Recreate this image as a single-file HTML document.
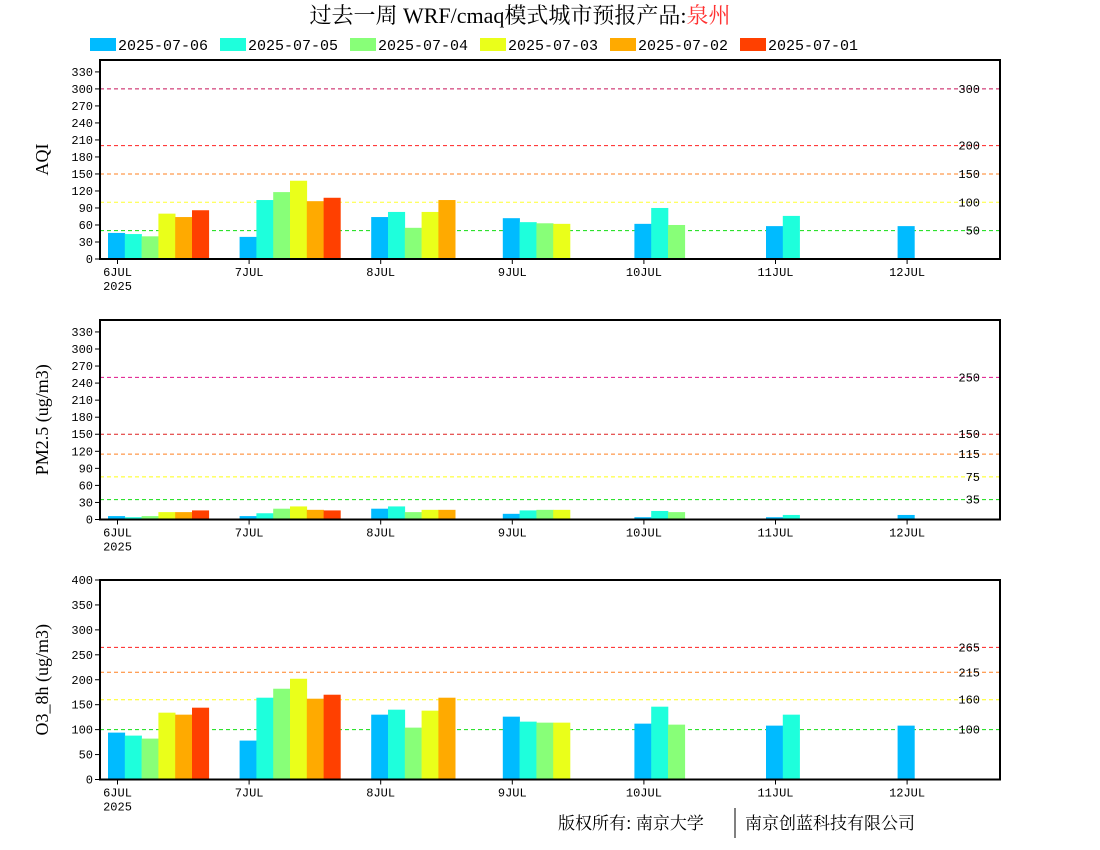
<!DOCTYPE html>
<html><head><meta charset="utf-8">
<style>
body{margin:0;background:#fff;}
svg{display:block;font-family:"Liberation Mono","WenQuanYi Zen Hei",monospace;}
</style></head>
<body>
<svg id="chart" width="1100" height="850" viewBox="0 0 1100 850" xmlns="http://www.w3.org/2000/svg">
<text x="520" y="23" text-anchor="middle" font-size="22" font-family="Liberation Serif,Noto Serif CJK SC,serif">过去一周 WRF/cmaq模式城市预报产品:<tspan fill="#ff3030">泉州</tspan></text>
<g id="legend"></g>
<g id="panels"></g>
<text x="558" y="829" font-size="17" font-family="Noto Serif CJK SC,serif">版权所有: 南京大学</text>
<line x1="735" y1="808" x2="735" y2="838" stroke="#000" stroke-width="1"/>
<text x="745" y="829" font-size="17" font-family="Noto Serif CJK SC,serif">南京创蓝科技有限公司</text>
</svg>
<script>
const days = ["6JUL","7JUL","8JUL","9JUL","10JUL","11JUL","12JUL"];
const runs = ["2025-07-06","2025-07-05","2025-07-04","2025-07-03","2025-07-02","2025-07-01"];
const colors = ["#00bbff","#1effdc","#88ff78","#eaff1a","#ffaa00","#ff4000"];
// values per run (series), indexed by day; null = no bar
const aqi_0706 = [46,39,74,72,62,58,58];
const aqi_0705 = [44,104,83,65,90,76,null];
const aqi_0704 = [40,118,55,63,60,null,null];
const aqi_0703 = [80,138,83,62,null,null,null];
const aqi_0702 = [74,102,104,null,null,null,null];
const aqi_0701 = [86,108,null,null,null,null,null];
const pm_0706 = [6,6,19,10,4,4,8];
const pm_0705 = [4,11,23,16,15,8,null];
const pm_0704 = [6,19,13,17,13,null,null];
const pm_0703 = [13,23,17,17,null,null,null];
const pm_0702 = [13,17,17,null,null,null,null];
const pm_0701 = [16,16,null,null,null,null,null];
const o3_0706 = [94,78,130,126,112,108,108];
const o3_0705 = [88,164,140,116,146,130,null];
const o3_0704 = [82,182,104,114,110,null,null];
const o3_0703 = [134,202,138,114,null,null,null];
const o3_0702 = [130,162,164,null,null,null,null];
const o3_0701 = [144,170,null,null,null,null,null];
const aqiTicks = [0,30,60,90,120,150,180,210,240,270,300,330];
const pmTicks = [0,30,60,90,120,150,180,210,240,270,300,330];
const o3Ticks = [0,50,100,150,200,250,300,350,400];
const aqiLevels = [300,200,150,100,50];
const pmLevels = [250,150,115,75,35];
const o3Levels = [265,215,160,100];
const levelColorsAqi = ["#c8145a","#ff2020","#ff8020","#ffff30","#10dd10"];
const levelColorsPm = ["#e0148a","#dd2020","#ff8020","#ffff10","#10dd10"];
const levelColorsO3 = ["#ff2020","#ff8020","#ffff10","#10dd10"];

const NS="http://www.w3.org/2000/svg";
const svg=document.getElementById('chart');
function mk(tag,attrs,parent){const e=document.createElementNS(NS,tag);for(const k in attrs)e.setAttribute(k,attrs[k]);(parent||svg).appendChild(e);return e;}

// legend
const lg=document.getElementById('legend');
runs.forEach((r,i)=>{
  const x=90+i*130;
  const sw=mk('rect',{x:x,y:38,width:26,height:13,fill:colors[i]},lg);
  
  
  const t=mk('text',{x:x+28,y:50,'font-size':15},lg);
  
  
  t.textContent=r;
});

const L=100,R=1000;
const dayX0=117.5, daySp=131.6, barW=16.8;
function xDay(i){return dayX0+i*daySp;}

function panel(name,top,bottom,ymax,ticks,levels,lcolors,series,ylabel){
  const g=mk('g',{},document.getElementById('panels'));
  
  
  const y=v=>bottom-(v/ymax)*(bottom-top);
  // levels
  levels.forEach((lv,i)=>{
    const ln=mk('line',{x1:L,x2:R,y1:y(lv),y2:y(lv),stroke:lcolors[i],'stroke-width':1,'stroke-dasharray':'4,3'},g);
    
    
    const t=mk('text',{x:980,y:y(lv)+4,'font-size':12,'text-anchor':'end'},g);
    
    
    t.textContent=lv;
  });
  // bars
  series.forEach((arr,k)=>{
    arr.forEach((v,d)=>{
      if(v==null)return;
      const b=mk('rect',{x:xDay(d)-9.5+k*barW,y:y(v),width:barW+0.3,height:bottom-y(v),fill:colors[k]},g);
      
      
    });
  });
  // frame
  const fr=mk('rect',{x:L,y:top,width:R-L,height:bottom-top,fill:'none',stroke:'#000','stroke-width':2},g);
  
  
  // y ticks
  ticks.forEach(tv=>{
    mk('line',{x1:L-5,x2:L,y1:y(tv),y2:y(tv),stroke:'#000'},g);
    const t=mk('text',{x:L-7,y:y(tv)+4,'font-size':12,'text-anchor':'end'},g);
    
    
    t.textContent=tv;
  });
  // x ticks
  days.forEach((d,i)=>{
    mk('line',{x1:xDay(i),x2:xDay(i),y1:bottom,y2:bottom+5,stroke:'#000'},g);
    const t=mk('text',{x:xDay(i),y:bottom+17,'font-size':12,'text-anchor':'middle'},g);
    
    
    t.textContent=d;
  });
  const yr=mk('text',{x:xDay(0),y:bottom+31,'font-size':12,'text-anchor':'middle'},g);
  
  
  yr.textContent='2025';
  const yl=mk('text',{x:0,y:0,'font-size':18,'text-anchor':'middle','font-family':'Liberation Serif,serif',transform:`translate(48,${(top+bottom)/2}) rotate(-90)`},g);
  
  
  yl.textContent=ylabel;
}
panel('aqi',60,259,351,aqiTicks,aqiLevels,levelColorsAqi,[aqi_0706,aqi_0705,aqi_0704,aqi_0703,aqi_0702,aqi_0701],'AQI');
panel('pm25',320,519.5,351,pmTicks,pmLevels,levelColorsPm,[pm_0706,pm_0705,pm_0704,pm_0703,pm_0702,pm_0701],'PM2.5 (ug/m3)');
panel('o3',580,779.5,400,o3Ticks,o3Levels,levelColorsO3,[o3_0706,o3_0705,o3_0704,o3_0703,o3_0702,o3_0701],'O3_8h (ug/m3)');
</script>
</body></html>
